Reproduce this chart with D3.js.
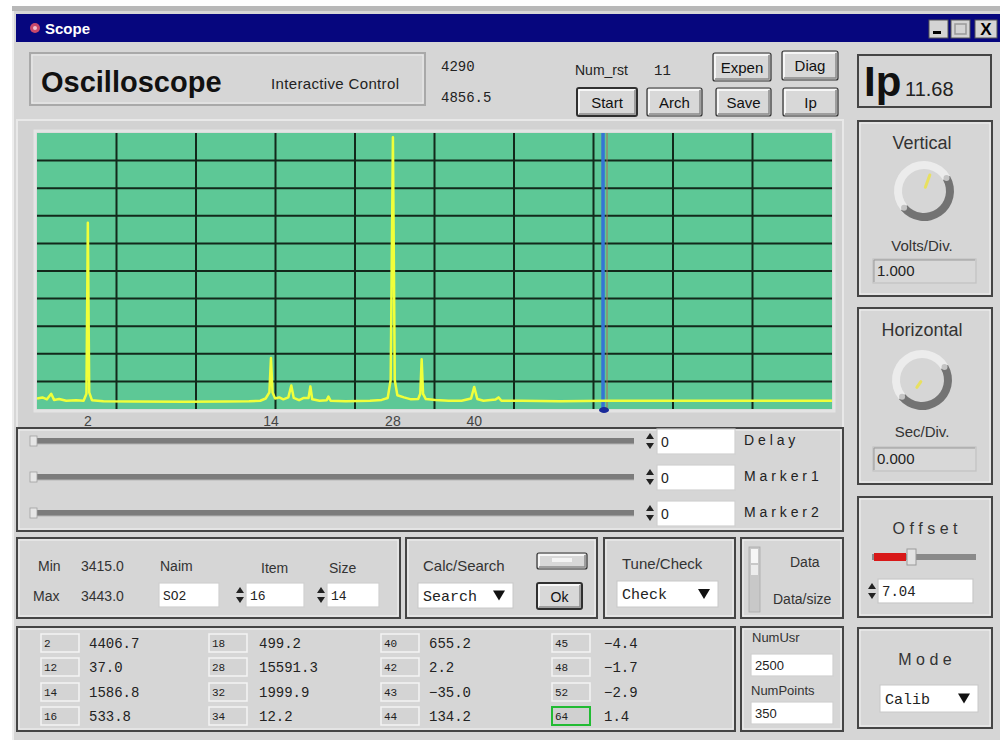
<!DOCTYPE html>
<html>
<head>
<meta charset="utf-8">
<script src="https://cdn.jsdelivr.net/npm/d3@7"></script>
<style>
  body { margin: 0; background: #ffffff; }
  svg { display: block; font-family: "Liberation Sans", Arial, sans-serif; }
</style>
</head>
<body>
<div id="scope"></div>
<script>
// trace: mass (amu) -> level in screen divisions
const traceMass = [0.59, 0.7, 0.8, 0.9, 0.97, 1.1, 1.3, 1.6, 1.85, 1.95, 2.0, 2.05, 2.15, 2.6, 4, 7, 10, 12, 13, 13.5,
  13.85, 14.0, 14.15, 14.4, 14.8, 15.2, 15.7, 16.0, 16.25, 16.8, 17.3, 17.8, 18.0, 18.2, 19, 19.8, 20.0, 20.25, 22, 25,
  26.5, 27.3, 27.7, 28.0, 28.25, 28.6, 29.5, 30.5, 31.5, 31.8, 32.0, 32.2, 32.6, 34, 36, 38, 39.5, 40.0, 40.5, 41.5,
  43.5, 44.0, 44.5, 48, 55, 64, 75, 90, 105, 118.2];
const traceLevel = [0.38, 0.42, 0.35, 0.55, 0.33, 0.36, 0.3, 0.32, 0.3, 0.55, 6.75, 0.6, 0.32, 0.28, 0.27, 0.26, 0.27, 0.28, 0.3, 0.38,
  0.6, 1.85, 0.6, 0.38, 0.42, 0.35, 0.42, 0.85, 0.4, 0.32, 0.4, 0.4, 0.82, 0.35, 0.3, 0.32, 0.45, 0.3, 0.28, 0.3,
  0.33, 0.4, 1.05, 9.85, 1.05, 0.5, 0.42, 0.35, 0.36, 0.55, 1.8, 0.55, 0.36, 0.33, 0.3, 0.3, 0.38, 0.8, 0.36, 0.3,
  0.34, 0.42, 0.3, 0.3, 0.28, 0.3, 0.3, 0.3, 0.3, 0.3];
const xTickMass = [2, 14, 28, 40];
const markerMass = 64;

// peak table under the screen
const tableMass = [2, 12, 14, 16, 18, 28, 32, 34, 40, 42, 43, 44, 45, 48, 52, 64];
const tableValue = [4406.7, 37.0, 1586.8, 533.8, 499.2, 15591.3, 1999.9, 12.2, 655.2, 2.2, -35.0, 134.2, -4.4, -1.7, -2.9, 1.4];

// header / control readouts
const headerNums = ["4290", "4856.5"];
const numRst = 11;
const ipValue = 11.68;
const minMax = [3415.0, 3443.0];
const sliderNames = ["D e l a y", "M a r k e r 1", "M a r k e r 2"];

const W = 1000, H = 740;
const BG = "#d6d6d6";
const mono = "'Liberation Mono', 'DejaVu Sans Mono', monospace";

const svg = d3.select("#scope").append("svg")
  .attr("width", W)
  .attr("height", H);

// window frame
svg.append("rect").attr("x", 0).attr("y", 0).attr("width", W).attr("height", H).attr("fill", "#ffffff");
svg.append("rect").attr("x", 12).attr("y", 6).attr("width", W - 12).attr("height", 5).attr("fill", "#b8b8b8");
svg.append("rect").attr("x", 13).attr("y", 11).attr("width", W - 13).attr("height", H - 11).attr("fill", BG);
svg.append("line").attr("x1", 13).attr("x2", 13).attr("y1", 11).attr("y2", H).attr("stroke", "#eeeeee").attr("stroke-width", 2);

// title bar
svg.append("rect").attr("x", 16).attr("y", 14).attr("width", W - 16).attr("height", 28).attr("fill", "#06067e");
svg.append("circle").attr("cx", 35).attr("cy", 28).attr("r", 5).attr("fill", "#c8486a");
svg.append("circle").attr("cx", 35).attr("cy", 28).attr("r", 2).attr("fill", "#f0c0d0");
svg.append("text").attr("x", 45).attr("y", 34).attr("fill", "#fff")
  .attr("font-weight", "bold").attr("font-size", 15).text("Scope");

// title bar buttons
const tb = svg.append("g");
[[929, "min"], [951, "max"], [975, "close"]].forEach(([x, k]) => {
  tb.append("rect").attr("x", x).attr("y", 20).attr("width", k === "close" ? 22 : 19).attr("height", 18)
    .attr("fill", "#d4d4d4").attr("stroke", "#555").attr("stroke-width", 1);
  if (k === "min") tb.append("rect").attr("x", x + 4).attr("y", 31).attr("width", 8).attr("height", 3).attr("fill", "#000");
  if (k === "max") tb.append("rect").attr("x", x + 4).attr("y", 24).attr("width", 11).attr("height", 10)
    .attr("fill", "none").attr("stroke", "#999").attr("stroke-width", 1.5);
  if (k === "close") tb.append("text").attr("x", x + 11).attr("y", 35).attr("text-anchor", "middle")
    .attr("font-weight", "bold").attr("font-size", 17).text("X");
});

// ---------- helpers ----------
function groupBox(x, y, w, h) {
  svg.append("rect").attr("x", x).attr("y", y).attr("width", w).attr("height", h)
    .attr("fill", "none").attr("stroke", "#454545").attr("stroke-width", 2);
  svg.append("rect").attr("x", x + 2).attr("y", y + 2).attr("width", w - 4).attr("height", h - 4)
    .attr("fill", "none").attr("stroke", "#f2f2f2").attr("stroke-width", 1);
}

function button(x, y, w, h, label, size) {
  const b = svg.append("g");
  b.append("rect").attr("x", x).attr("y", y).attr("width", w).attr("height", h)
    .attr("fill", "#d8d8d8").attr("stroke", "#303030").attr("stroke-width", 1.2).attr("rx", 2);
  b.append("path").attr("d", `M${x + 2},${y + h - 2}V${y + 2}H${x + w - 2}`)
    .attr("fill", "none").attr("stroke", "#ffffff").attr("stroke-width", 1.5);
  b.append("path").attr("d", `M${x + 2},${y + h - 2}H${x + w - 2}V${y + 2}`)
    .attr("fill", "none").attr("stroke", "#8a8a8a").attr("stroke-width", 1.5);
  if (label) b.append("text").attr("x", x + w / 2).attr("y", y + h / 2 + 5.5).attr("text-anchor", "middle")
    .attr("font-size", size || 15).attr("fill", "#111").text(label);
  return b;
}

function inputBox(x, y, w, h, txt, opt = {}) {
  svg.append("rect").attr("x", x).attr("y", y).attr("width", w).attr("height", h)
    .attr("fill", opt.fill || "#ffffff").attr("stroke", opt.stroke || "#b0b0b0").attr("stroke-width", 1.2);
  if (opt.fill) {
    svg.append("path").attr("d", `M${x + 1},${y + h - 1}V${y + 1}H${x + w - 1}`)
      .attr("fill", "none").attr("stroke", "#999").attr("stroke-width", 1);
  }
  if (txt !== undefined) svg.append("text").attr("x", x + 4).attr("y", y + h / 2 + 5)
    .attr("font-family", opt.font || "inherit").attr("font-size", opt.size || 14).attr("fill", "#222").text(txt);
}

function spinner(x, cy) {
  svg.append("path").attr("d", `M${x - 4},${cy - 2}L${x},${cy - 8}L${x + 4},${cy - 2}Z`).attr("fill", "#222");
  svg.append("path").attr("d", `M${x - 4},${cy + 2}L${x},${cy + 8}L${x + 4},${cy + 2}Z`).attr("fill", "#222");
}

function dropdown(x, y, w, h, txt) {
  svg.append("rect").attr("x", x).attr("y", y).attr("width", w).attr("height", h)
    .attr("fill", "#ffffff").attr("stroke", "#c8c8c8").attr("stroke-width", 1);
  svg.append("text").attr("x", x + 5).attr("y", y + h / 2 + 5).attr("font-family", mono)
    .attr("font-size", 15).attr("fill", "#222").text(txt);
  const ax = x + w - 14, ay = y + h / 2;
  svg.append("path").attr("d", `M${ax - 6},${ay - 5}H${ax + 6}L${ax},${ay + 5}Z`).attr("fill", "#111");
}

function knob(cx, cy, angle, indicator) {
  const k = svg.append("g").attr("transform", `translate(${cx},${cy})`);
  const toRad = d => d * Math.PI / 180;
  k.append("path").attr("d", d3.arc().innerRadius(22).outerRadius(30).startAngle(toRad(-130)).endAngle(toRad(60))())
    .attr("fill", "#ececec");
  k.append("path").attr("d", d3.arc().innerRadius(22).outerRadius(30).startAngle(toRad(60)).endAngle(toRad(230))())
    .attr("fill", "#737373");
  [-130, 60].forEach(a => {
    k.append("circle").attr("cx", 26 * Math.sin(toRad(a))).attr("cy", -26 * Math.cos(toRad(a)))
      .attr("r", 3).attr("fill", "#c4c4c4");
  });
  const r0 = indicator[0], r1 = indicator[1];
  k.append("line")
    .attr("x1", r0 * Math.sin(toRad(angle))).attr("y1", -r0 * Math.cos(toRad(angle)))
    .attr("x2", r1 * Math.sin(toRad(angle))).attr("y2", -r1 * Math.cos(toRad(angle)))
    .attr("stroke", "#e8e060").attr("stroke-width", 3).attr("stroke-linecap", "round");
}

// ---------- header ----------
svg.append("rect").attr("x", 30).attr("y", 53).attr("width", 395).attr("height", 52)
  .attr("fill", BG).attr("stroke", "#a9a9a9").attr("stroke-width", 2);
svg.append("rect").attr("x", 32).attr("y", 55).attr("width", 391).attr("height", 48)
  .attr("fill", "none").attr("stroke", "#ececec").attr("stroke-width", 1);
svg.append("text").attr("x", 41).attr("y", 92).attr("font-weight", "bold").attr("font-size", 29)
  .attr("fill", "#111").text("Oscilloscope");
svg.append("text").attr("x", 271).attr("y", 89).attr("font-size", 15).attr("fill", "#222")
  .attr("textLength", 128).text("Interactive Control");

svg.selectAll("text.hnum").data(headerNums).join("text").attr("class", "hnum")
  .attr("x", 441).attr("y", (d, i) => 71 + i * 31)
  .attr("font-family", mono).attr("font-size", 14).attr("fill", "#222").text(d => d);

svg.append("text").attr("x", 575).attr("y", 75).attr("font-size", 14).attr("fill", "#222").text("Num_rst");
svg.append("text").attr("x", 654).attr("y", 75).attr("font-family", mono).attr("font-size", 14)
  .attr("fill", "#222").text(numRst);

button(713, 53, 58, 28, "Expen");
button(782, 51, 56, 29, "Diag");
button(577, 88, 60, 28, "Start").select("rect").attr("stroke-width", 2);
button(647, 88, 55, 28, "Arch");
button(716, 88, 55, 28, "Save");
button(783, 88, 55, 28, "Ip");

// Ip box
svg.append("rect").attr("x", 858).attr("y", 55).attr("width", 133).attr("height", 52)
  .attr("fill", BG).attr("stroke", "#454545").attr("stroke-width", 2);
svg.append("text").attr("x", 864).attr("y", 96).attr("font-weight", "bold").attr("font-size", 42)
  .attr("fill", "#111").text("Ip");
svg.append("text").attr("x", 905).attr("y", 96).attr("font-size", 20).attr("fill", "#222").text(ipValue.toFixed(2));

// ---------- screen ----------
svg.append("rect").attr("x", 17).attr("y", 120).attr("width", 826).attr("height", 308)
  .attr("fill", "#d2d2d2").attr("stroke", "#e8e8e8").attr("stroke-width", 2);
svg.append("rect").attr("x", 35).attr("y", 131).attr("width", 799).attr("height", 280)
  .attr("fill", "none").attr("stroke", "#e4e4e4").attr("stroke-width", 3);

const plot = { left: 37, right: 832, top: 133, bottom: 409 };
const x = d3.scaleSqrt().domain([0.59, 118.2]).range([plot.left, plot.right]);
const y = d3.scaleLinear().domain([0, 10]).range([plot.bottom, plot.top]);
const gx = d3.scaleLinear().domain([0, 10]).range([plot.left, plot.right]);

svg.append("rect").attr("x", plot.left).attr("y", plot.top)
  .attr("width", plot.right - plot.left).attr("height", plot.bottom - plot.top).attr("fill", "#5dc896");

svg.append("clipPath").attr("id", "clip").append("rect").attr("x", plot.left).attr("y", plot.top)
  .attr("width", plot.right - plot.left).attr("height", plot.bottom - plot.top);

// grid: 10 x 10 divisions
const grid = svg.append("g").attr("stroke", "#12291b").attr("stroke-width", 2);
grid.selectAll("line.v").data(d3.range(1, 10)).join("line").attr("class", "v")
  .attr("x1", d => gx(d)).attr("x2", d => gx(d)).attr("y1", plot.top).attr("y2", plot.bottom);
grid.selectAll("line.h").data(d3.range(1, 10)).join("line").attr("class", "h")
  .attr("x1", plot.left).attr("x2", plot.right).attr("y1", d => y(d)).attr("y2", d => y(d));

// marker cursor at mass 64
const mx = x(markerMass);
svg.append("line").attr("x1", mx - 3).attr("x2", mx - 3).attr("y1", plot.top).attr("y2", plot.bottom)
  .attr("stroke", "#3574d4").attr("stroke-width", 3.5);
svg.append("line").attr("x1", mx + 1).attr("x2", mx + 1).attr("y1", plot.top).attr("y2", plot.bottom)
  .attr("stroke", "#b06a5a").attr("stroke-width", 1);

// trace
const traceData = traceMass.map((m, i) => [m, traceLevel[i]]);
svg.append("path").datum(traceData)
  .attr("clip-path", "url(#clip)")
  .attr("d", d3.line().x(d => x(d[0])).y(d => y(d[1])))
  .attr("fill", "none").attr("stroke", "#f0ff3a").attr("stroke-width", 2.5).attr("stroke-linejoin", "round");

svg.append("ellipse").attr("cx", mx - 2).attr("cy", plot.bottom + 1).attr("rx", 5).attr("ry", 3).attr("fill", "#1a2a9a");

// x labels
svg.append("g").selectAll("text").data(xTickMass).join("text")
  .attr("x", d => x(d)).attr("y", 426).attr("text-anchor", "middle")
  .attr("font-size", 14).attr("fill", "#444").text(d => d);

// ---------- sliders ----------
groupBox(17, 428, 826, 103);
sliderNames.forEach((name, i) => {
  const cy = 441 + i * 36;
  svg.append("rect").attr("x", 33).attr("y", cy - 3).attr("width", 601).attr("height", 6).attr("fill", "#7c7c7c");
  svg.append("line").attr("x1", 33).attr("x2", 634).attr("y1", cy + 3).attr("y2", cy + 3).attr("stroke", "#b5b5b5");
  svg.append("rect").attr("x", 30).attr("y", cy - 5).attr("width", 7).attr("height", 10).attr("fill", "#e6e6e6")
    .attr("stroke", "#a0a0a0").attr("stroke-width", 0.8);
  spinner(650, cy);
  inputBox(657, cy - 12, 78, 25, "0", { stroke: "#d0d0d0", size: 14 });
  svg.append("text").attr("x", 744).attr("y", cy + 4).attr("font-size", 14).attr("fill", "#222").text(name);
});

// ---------- right column ----------
groupBox(858, 121, 134, 175);
svg.append("text").attr("x", 922).attr("y", 149).attr("text-anchor", "middle").attr("font-size", 18)
  .attr("fill", "#333").text("Vertical");
knob(924, 191, 20, [4, 17]);
svg.append("text").attr("x", 922).attr("y", 251).attr("text-anchor", "middle").attr("font-size", 15)
  .attr("fill", "#333").text("Volts/Div.");
inputBox(873, 259, 103, 24, "1.000", { fill: "#d8d8d8", stroke: "#c2c2c2", size: 15 });

groupBox(858, 308, 134, 176);
svg.append("text").attr("x", 922).attr("y", 336).attr("text-anchor", "middle").attr("font-size", 18)
  .attr("fill", "#333").text("Horizontal");
knob(922, 380, 215, [2, 9]);
svg.append("text").attr("x", 922).attr("y", 437).attr("text-anchor", "middle").attr("font-size", 15)
  .attr("fill", "#333").text("Sec/Div.");
inputBox(873, 447, 103, 24, "0.000", { fill: "#d8d8d8", stroke: "#c2c2c2", size: 15 });

groupBox(858, 497, 134, 120);
svg.append("text").attr("x", 925).attr("y", 534).attr("text-anchor", "middle").attr("font-size", 16)
  .attr("fill", "#333").text("O f f s e t");
svg.append("rect").attr("x", 872).attr("y", 554).attr("width", 104).attr("height", 6).attr("fill", "#8a8a8a");
svg.append("rect").attr("x", 874).attr("y", 553).attr("width", 32).attr("height", 8).attr("fill", "#d81818");
svg.append("rect").attr("x", 907).attr("y", 549).attr("width", 9).attr("height", 16).attr("fill", "#e2e2e2")
  .attr("stroke", "#9a9a9a").attr("stroke-width", 1);
spinner(872, 591);
inputBox(878, 579, 95, 24, "7.04", { font: mono, size: 14, stroke: "#c8c8c8" });

groupBox(858, 628, 134, 100);
svg.append("text").attr("x", 925).attr("y", 665).attr("text-anchor", "middle").attr("font-size", 16)
  .attr("fill", "#333").text("M o d e");
dropdown(880, 685, 98, 27, "Calib");

// ---------- settings row ----------
groupBox(17, 538, 383, 80);
svg.append("text").attr("x", 38).attr("y", 571).attr("font-size", 14).attr("fill", "#333").text("Min");
svg.append("text").attr("x", 33).attr("y", 601).attr("font-size", 14).attr("fill", "#333").text("Max");
svg.selectAll("text.mm").data(minMax).join("text").attr("class", "mm")
  .attr("x", 81).attr("y", (d, i) => 571 + i * 30).attr("font-size", 14).attr("fill", "#333")
  .text(d => d.toFixed(1));
svg.append("text").attr("x", 160).attr("y", 571).attr("font-size", 14).attr("fill", "#333").text("Naim");
svg.append("text").attr("x", 261).attr("y", 573).attr("font-size", 14).attr("fill", "#333").text("Item");
svg.append("text").attr("x", 329).attr("y", 573).attr("font-size", 14).attr("fill", "#333").text("Size");
inputBox(159, 583, 60, 24, "SO2", { font: mono, size: 13, stroke: "#d0d0d0" });
spinner(240, 595);
inputBox(246, 583, 58, 24, "16", { font: mono, size: 13, stroke: "#d0d0d0" });
spinner(321, 595);
inputBox(327, 583, 52, 24, "14", { font: mono, size: 13, stroke: "#d0d0d0" });

groupBox(406, 538, 191, 80);
svg.append("text").attr("x", 423).attr("y", 571).attr("font-size", 15).attr("fill", "#333").text("Calc/Search");
button(537, 553, 50, 16, null);
svg.append("rect").attr("x", 552).attr("y", 558).attr("width", 20).attr("height", 4).attr("fill", "#f4f4f4");
dropdown(418, 583, 95, 25, "Search");
button(537, 583, 45, 26, "Ok", 14).select("rect").attr("stroke-width", 2);

groupBox(604, 538, 131, 80);
svg.append("text").attr("x", 622).attr("y", 569).attr("font-size", 15).attr("fill", "#333").text("Tune/Check");
dropdown(617, 581, 101, 26, "Check");

groupBox(741, 538, 102, 80);
svg.append("rect").attr("x", 749).attr("y", 547).attr("width", 11).attr("height", 65).attr("fill", "#c8c8c8")
  .attr("stroke", "#aaa").attr("stroke-width", 0.8);
svg.append("rect").attr("x", 751).attr("y", 549).attr("width", 7).attr("height", 14).attr("fill", "#f6f6f6");
svg.append("rect").attr("x", 751).attr("y", 565).attr("width", 7).attr("height", 10).attr("fill", "#ececec");
svg.append("text").attr("x", 790).attr("y", 567).attr("font-size", 14).attr("fill", "#333").text("Data");
svg.append("text").attr("x", 773).attr("y", 604).attr("font-size", 14).attr("fill", "#333").text("Data/size");

// ---------- peak table ----------
groupBox(17, 627, 718, 104);
const colBox = [41, 209, 381, 552], colVal = [89, 259, 429, 604], rowY = [643, 667, 692, 716];
tableMass.forEach((m, i) => {
  const c = Math.floor(i / 4), r = i % 4;
  const hi = m === markerMass;
  svg.append("rect").attr("x", colBox[c]).attr("y", rowY[r] - 9).attr("width", 38).attr("height", 18)
    .attr("fill", hi ? "#d0d0d0" : "#d4d4d4")
    .attr("stroke", hi ? "#22bb33" : "#f4f4f4").attr("stroke-width", hi ? 2 : 1.5);
  svg.append("text").attr("x", colBox[c] + 3).attr("y", rowY[r] + 4).attr("font-family", mono)
    .attr("font-size", 11).attr("fill", "#222").text(m);
  svg.append("text").attr("x", colVal[c]).attr("y", rowY[r] + 5).attr("font-family", mono)
    .attr("font-size", 14).attr("fill", "#222").text(d3.format(".1f")(tableValue[i]));
});

groupBox(741, 627, 102, 104);
svg.append("text").attr("x", 752).attr("y", 642).attr("font-size", 13).attr("fill", "#333").text("NumUsr");
inputBox(751, 654, 82, 22, "2500", { size: 13, stroke: "#d0d0d0" });
svg.append("text").attr("x", 751).attr("y", 695).attr("font-size", 13).attr("fill", "#333").text("NumPoints");
inputBox(751, 702, 82, 22, "350", { size: 13, stroke: "#d0d0d0" });
</script>
</body>
</html>
